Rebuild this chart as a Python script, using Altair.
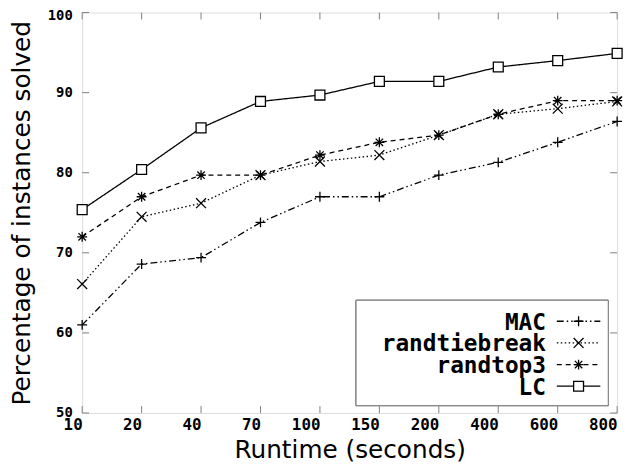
import altair as alt
import pandas as pd

runtimes = ["10", "20", "40", "70", "100", "150", "200", "400", "600", "800"]
series_names = ["MAC", "randtiebreak", "randtop3", "LC"]
mac = [61.0, 68.6, 69.4, 73.8, 77.0, 77.0, 79.7, 81.3, 83.8, 86.4]
randtiebreak = [66.1, 74.5, 76.2, 79.7, 81.4, 82.2, 84.7, 87.3, 88.0, 88.9]
randtop3 = [72.0, 77.0, 79.7, 79.7, 82.2, 83.8, 84.7, 87.3, 89.0, 89.0]
lc = [75.4, 80.4, 85.6, 88.9, 89.7, 91.4, 91.4, 93.2, 94.0, 94.9]
y_ticks = [50, 60, 70, 80, 90, 100]

values = {"MAC": mac, "randtiebreak": randtiebreak, "randtop3": randtop3, "LC": lc}
rows = []
for s in series_names:
    for t, v in zip(runtimes, values[s]):
        rows.append({"series": s, "runtime": t, "pct": v})
df = pd.DataFrame(rows)

W, H = 541, 405
FRAME = "#808080"

dashes = [[7, 3, 1.5, 3, 1.5, 3], [1.5, 2.5], [5, 4], [1, 0]]
shapes = [
    "M-1,0L1,0M0,-1L0,1",
    "M-1,-1L1,1M-1,1L1,-1",
    "M-1,0L1,0M0,-1L0,1M-0.75,-0.75L0.75,0.75M-0.75,0.75L0.75,-0.75",
    "square",
]
dash_scale = alt.Scale(domain=series_names, range=dashes)
shape_scale = alt.Scale(domain=series_names, range=shapes)

x_enc = alt.X(
    "runtime:O",
    sort=runtimes,
    scale=alt.Scale(type="point", padding=0, domain=runtimes),
    axis=alt.Axis(
        title="Runtime (seconds)",
        labelAngle=0,
        ticks=False,
        domain=False,
        labelFont="DejaVu Sans Mono",
        labelFontWeight="bold",
        labelFontSize=16,
        labelPadding=12,
        titleFont="DejaVu Sans",
        titleFontWeight="normal",
        titleFontSize=25,
        titlePadding=5,
        labelColor="black",
        titleColor="black",
    ),
)
y_enc = alt.Y(
    "pct:Q",
    scale=alt.Scale(domain=[50, 100], nice=False, zero=False),
    axis=alt.Axis(
        title="Percentage of instances solved",
        values=y_ticks,
        grid=False,
        ticks=False,
        domain=False,
        labelFont="DejaVu Sans Mono",
        labelFontWeight="bold",
        labelFontSize=14,
        labelPadding=10,
        labelOffset=alt.condition("datum.value == 100", alt.value(3), alt.value(0)),
        titleFont="DejaVu Sans",
        titleFontWeight="normal",
        titleFontSize=25,
        titlePadding=13,
        labelColor="black",
        titleColor="black",
    ),
)

lines = alt.Chart(df).mark_line(color="black", strokeWidth=1.3).encode(
    x=x_enc,
    y=y_enc,
    strokeDash=alt.StrokeDash("series:N", scale=dash_scale, legend=None),
    detail="series:N",
)
points = alt.Chart(df).mark_point(
    stroke="black", fill="white", strokeWidth=1.3, opacity=1, size=100
).encode(
    x=alt.X("runtime:O", sort=runtimes),
    y=alt.Y("pct:Q"),
    shape=alt.Shape("series:N", scale=shape_scale, legend=None),
)

xt = pd.DataFrame({"runtime": runtimes})
yt = pd.DataFrame({"pct": y_ticks})
xticks_bottom = alt.Chart(xt).mark_rule(color=FRAME, strokeWidth=1).encode(
    x=alt.X("runtime:O", sort=runtimes), y=alt.value(H), y2=alt.value(H - 7)
)
xticks_top = alt.Chart(xt).mark_rule(color=FRAME, strokeWidth=1).encode(
    x=alt.X("runtime:O", sort=runtimes), y=alt.value(0), y2=alt.value(7)
)
yticks_left = alt.Chart(yt).mark_rule(color=FRAME, strokeWidth=1).encode(
    y=alt.Y("pct:Q"), x=alt.value(0), x2=alt.value(7)
)
yticks_right = alt.Chart(yt).mark_rule(color=FRAME, strokeWidth=1).encode(
    y=alt.Y("pct:Q"), x=alt.value(W), x2=alt.value(W - 7)
)

leg = pd.DataFrame({"series": series_names, "row": list(range(len(series_names)))})
leg_box = alt.Chart(leg).mark_rect(fill="white", stroke=FRAME, strokeWidth=1).encode(
    x=alt.value(277), x2=alt.value(532), y=alt.value(291), y2=alt.value(397.5)
)
leg_base = alt.Chart(leg).transform_calculate(
    ly="312.2 + datum.row * 21.9", ty="313.7 + datum.row * 21.9"
)
leg_text = leg_base.mark_text(
    align="right", baseline="middle", font="DejaVu Sans Mono", fontWeight="bold",
    fontSize=23, color="black"
).encode(x=alt.value(469), y=alt.Y("ty:Q", scale=None), text="series:N")
leg_line = leg_base.mark_rule(color="black", strokeWidth=1.3).encode(
    x=alt.value(480), x2=alt.value(524), y=alt.Y("ly:Q", scale=None),
    strokeDash=alt.StrokeDash("series:N", scale=dash_scale, legend=None),
)
leg_pts = leg_base.mark_point(
    stroke="black", fill="white", strokeWidth=1.3, opacity=1, size=100
).encode(
    x=alt.value(502), y=alt.Y("ly:Q", scale=None),
    shape=alt.Shape("series:N", scale=shape_scale, legend=None),
)

chart = alt.layer(
    xticks_bottom, xticks_top, yticks_left, yticks_right,
    lines, points, leg_box, leg_text, leg_line, leg_pts
).properties(
    width=W, height=H,
    autosize=alt.AutoSizeParams(type="none"),
    padding={"left": 75, "top": 2, "right": 13, "bottom": 53},
).configure_view(stroke=FRAME, strokeWidth=1).configure(background="white")

chart.save("out.html", embed_options={"renderer": "svg", "actions": False})
